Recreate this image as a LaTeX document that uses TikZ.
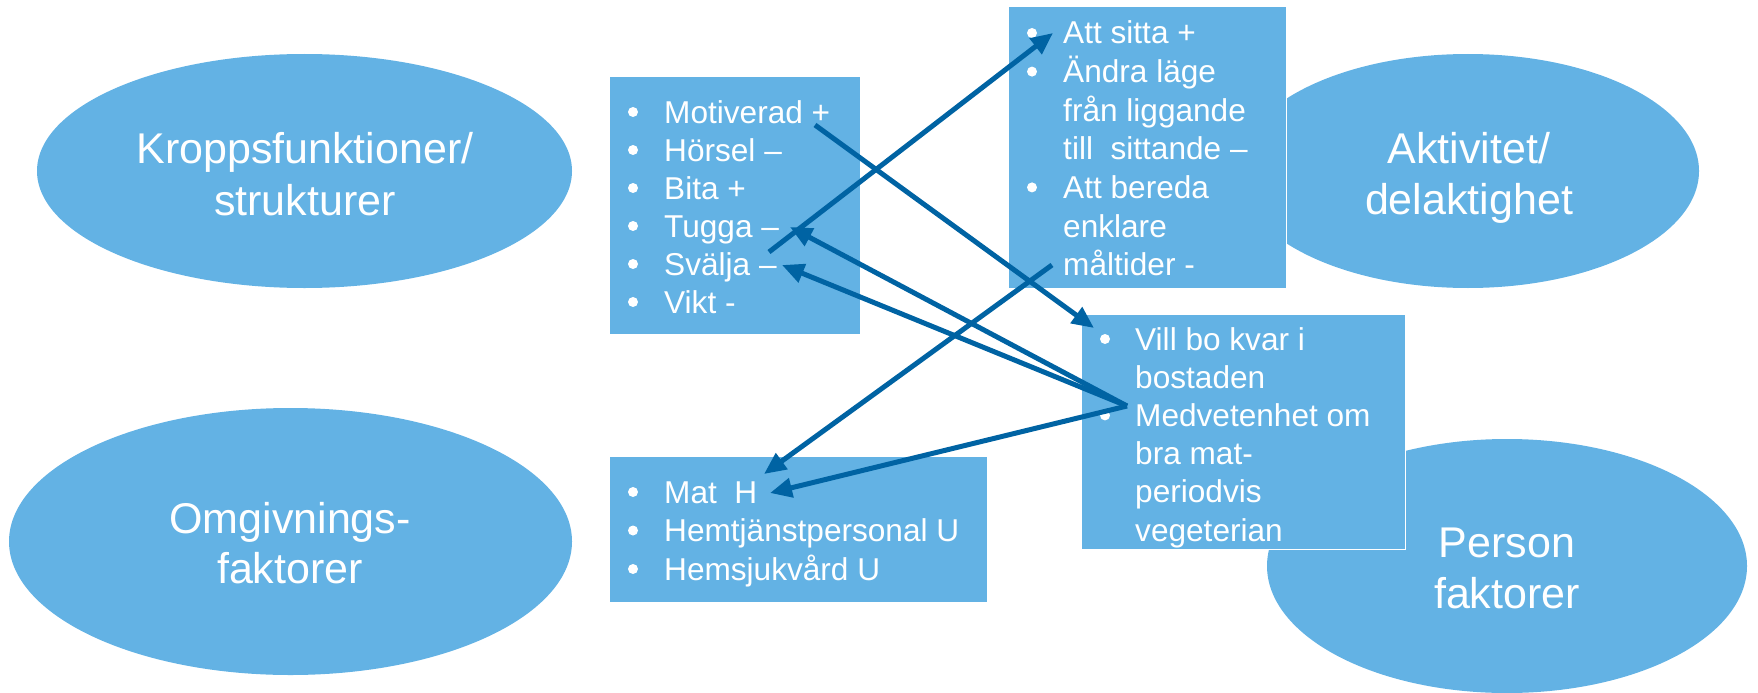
\documentclass[tikz,border=0pt]{standalone}
\usepackage{fontspec}
\setmainfont{Liberation Sans}
\usetikzlibrary{arrows.meta,shapes.geometric}
\definecolor{lb}{RGB}{99,178,228}
\definecolor{ab}{RGB}{0,99,163}
\begin{document}
\begin{tikzpicture}[x=1pt,y=-1pt,
  oval/.style={ellipse,fill=lb,draw=none,inner sep=0pt},
  box/.style={rectangle,fill=lb,draw=white,line width=1.2pt,inner sep=0pt,anchor=north west},
  itm/.style={anchor=base west,inner sep=0pt,text=white,font=\fontsize{31.6pt}{38pt}\selectfont},
  lbl/.style={anchor=base,inner sep=0pt,text=white,font=\fontsize{43pt}{52pt}\selectfont},
  arr/.style={draw=ab,line width=5pt,-{Triangle[length=22pt,width=19pt]}}]
\useasboundingbox (0,0) rectangle (1758,693);
% ellipses
\node[oval,minimum width=535pt,minimum height=234pt] (kfE) at (304.5,171) {};
\node[oval,minimum width=563pt,minimum height=267pt] (omE) at (290.5,541.5) {};
\node[oval,minimum width=462pt,minimum height=234pt] (akE) at (1468,171) {};
\node[oval,minimum width=480pt,minimum height=254pt] (pfE) at (1507,566) {};
% ellipse labels
\node[lbl] (kf1) at (305,163) {Kroppsfunktioner/};
\node[lbl] (kf2) at (305,215) {strukturer};
\node[lbl] (om1) at (290,533) {Omgivnings-};
\node[lbl] (om2) at (290,583) {faktorer};
\node[lbl] (ak1) at (1469,163) {Aktivitet/};
\node[lbl] (ak2) at (1469,214) {delaktighet};
\node[lbl] (pf1) at (1507,557) {Person};
\node[lbl] (pf2) at (1507,608) {faktorer};
% boxes
\node[box,minimum width=251pt,minimum height=258pt] (bfB) at (609,76) {};
\node[box,minimum width=378pt,minimum height=146pt] (omB) at (609,456) {};
\node[box,minimum width=278pt,minimum height=282pt] (akB) at (1008,6) {};
\node[box,minimum width=324pt,minimum height=235pt] (pfB) at (1081,314) {};
% box 1 items
\foreach \yy in {112,150,188,226,264,302} \fill[white] (633,\yy) circle (5);
\node[itm] (b1) at (664,123) {Motiverad +};
\node[itm] (b2) at (664,161) {Hörsel –};
\node[itm] (b3) at (664,199) {Bita +};
\node[itm] (b4) at (664,237) {Tugga –};
\node[itm] (b5) at (664,275) {Svälja –};
\node[itm] (b6) at (664,313) {Vikt -};
% box 2 items
\foreach \yy in {492,530.5,569} \fill[white] (633,\yy) circle (5);
\node[itm] (o1) at (664,503) {Mat\ \ H};
\node[itm] (o2) at (664,541.5) {Hemtjänstpersonal U};
\node[itm] (o3) at (664,580) {Hemsjukvård U};
% box 3 items
\foreach \yy in {33,71.6,187.4} \fill[white] (1032,\yy) circle (5);
\node[itm] (a1) at (1063,44) {Att sitta +};
\node[itm] (a2) at (1063,82.6) {Ändra läge};
\node[itm] (a3) at (1063,121.2) {från liggande};
\node[itm] (a4) at (1063,159.8) {till\ \ sittande –};
\node[itm] (a5) at (1063,198.4) {Att bereda};
\node[itm] (a6) at (1063,237) {enklare};
\node[itm] (a7) at (1063,275.6) {måltider -};
% box 4 items
\foreach \yy in {339,415.4} \fill[white] (1105,\yy) circle (5);
\node[itm] (p1) at (1135,350) {Vill bo kvar i};
\node[itm] (p2) at (1135,388) {bostaden};
\node[itm] (p3) at (1135,426.4) {Medvetenhet om};
\node[itm] (p4) at (1135,464.6) {bra mat-};
\node[itm] (p5) at (1135,502.8) {periodvis};
\node[itm] (p6) at (1135,541) {vegeterian};
% connector ends
\coordinate (cMotiv) at (815,125);
\coordinate (cVillbo) at (1094,328);
\coordinate (cSvalja) at (769,252);
\coordinate (cSitta) at (1053,33);
\coordinate (cMedv) at (1127,406);
\coordinate (cTugga) at (790,227);
\coordinate (cSvaljaIn) at (782,265);
\coordinate (cMalt) at (1052,265);
\coordinate (cMatA) at (764,474);
\coordinate (cMatB) at (770,493);
% connectors
\draw[arr] (cMotiv) -- (cVillbo);
\draw[arr] (cSvalja) -- (cSitta);
\draw[arr] (cMedv) -- (cTugga);
\draw[arr] (cMedv) -- (cSvaljaIn);
\draw[arr] (cMalt) -- (cMatA);
\draw[arr] (cMedv) -- (cMatB);
\end{tikzpicture}
\end{document}
